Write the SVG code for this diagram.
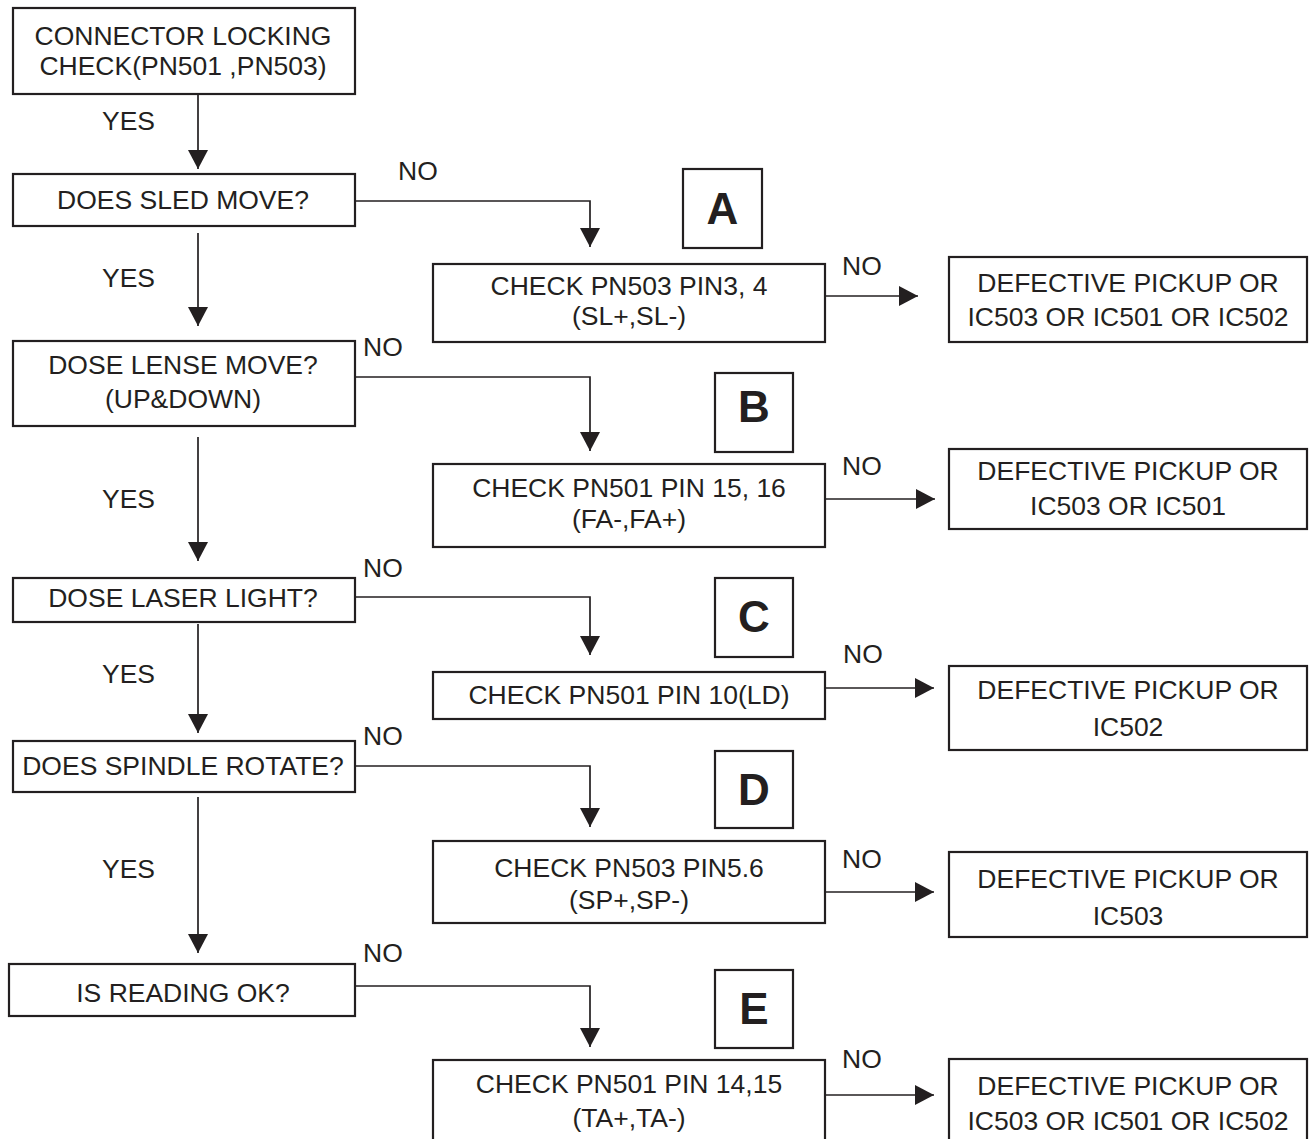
<svg xmlns="http://www.w3.org/2000/svg" width="1315" height="1139" viewBox="0 0 1315 1139">
<style>
  .box{fill:#fff;stroke:#231f20;stroke-width:2.2}
  .t{font-family:"Liberation Sans",Arial,Helvetica,sans-serif;font-size:26.5px;fill:#231f20;text-anchor:middle}
  .lbl{font-family:"Liberation Sans",Arial,Helvetica,sans-serif;font-size:26.5px;fill:#231f20}
  .big{font-family:"Liberation Sans",Arial,Helvetica,sans-serif;font-size:44px;font-weight:bold;fill:#231f20;text-anchor:middle}
  .c{fill:none;stroke:#231f20;stroke-width:1.7}
</style>
<defs>
  <marker id="ah" markerUnits="userSpaceOnUse" markerWidth="20" markerHeight="20" refX="19" refY="10" orient="auto">
    <path d="M0,0 L19,10 L0,20 Z" fill="#231f20"/>
  </marker>
</defs>
<rect width="1315" height="1139" fill="#fff"/>

<g id="connectors">
  <path class="c" d="M198,94 V169" marker-end="url(#ah)"/>
  <path class="c" d="M198,233 V326" marker-end="url(#ah)"/>
  <path class="c" d="M198,437 V561" marker-end="url(#ah)"/>
  <path class="c" d="M198,624 V733" marker-end="url(#ah)"/>
  <path class="c" d="M198,797 V953" marker-end="url(#ah)"/>

  <path class="c" d="M355,201 H590 V247" marker-end="url(#ah)"/>
  <path class="c" d="M355,377 H590 V451" marker-end="url(#ah)"/>
  <path class="c" d="M355,597 H590 V655" marker-end="url(#ah)"/>
  <path class="c" d="M355,766 H590 V827" marker-end="url(#ah)"/>
  <path class="c" d="M355,986 H590 V1047" marker-end="url(#ah)"/>

  <path class="c" d="M825,296 H918" marker-end="url(#ah)"/>
  <path class="c" d="M825,499 H935" marker-end="url(#ah)"/>
  <path class="c" d="M825,688 H934" marker-end="url(#ah)"/>
  <path class="c" d="M825,892 H934" marker-end="url(#ah)"/>
  <path class="c" d="M825,1095 H934" marker-end="url(#ah)"/>

  <text class="lbl" x="102" y="130">YES</text>
  <text class="lbl" x="102" y="287">YES</text>
  <text class="lbl" x="102" y="508">YES</text>
  <text class="lbl" x="102" y="683">YES</text>
  <text class="lbl" x="102" y="878">YES</text>

  <text class="lbl" x="398" y="180">NO</text>
  <text class="lbl" x="363" y="356">NO</text>
  <text class="lbl" x="363" y="577">NO</text>
  <text class="lbl" x="363" y="745">NO</text>
  <text class="lbl" x="363" y="962">NO</text>

  <text class="lbl" x="842" y="275">NO</text>
  <text class="lbl" x="842" y="475">NO</text>
  <text class="lbl" x="843" y="663">NO</text>
  <text class="lbl" x="842" y="868">NO</text>
  <text class="lbl" x="842" y="1068">NO</text>
</g>

<g id="n-connector">
  <rect class="box" x="13" y="8" width="342" height="86"/>
  <text class="t" x="183" y="45">CONNECTOR LOCKING</text>
  <text class="t" x="183" y="75">CHECK(PN501 ,PN503)</text>
</g>
<g id="n-sled">
  <rect class="box" x="13" y="174" width="342" height="52"/>
  <text class="t" x="183" y="209">DOES SLED MOVE?</text>
</g>
<g id="n-lense">
  <rect class="box" x="13" y="341" width="342" height="85"/>
  <text class="t" x="183" y="374">DOSE LENSE MOVE?</text>
  <text class="t" x="183" y="408">(UP&amp;DOWN)</text>
</g>
<g id="n-laser">
  <rect class="box" x="13" y="578" width="342" height="44"/>
  <text class="t" x="183" y="607">DOSE LASER LIGHT?</text>
</g>
<g id="n-spindle">
  <rect class="box" x="13" y="741" width="342" height="51"/>
  <text class="t" x="183" y="775">DOES SPINDLE ROTATE?</text>
</g>
<g id="n-reading">
  <rect class="box" x="9" y="964" width="346" height="52"/>
  <text class="t" x="183" y="1002">IS READING OK?</text>
</g>

<g id="n-labelA">
  <rect class="box" x="683" y="169" width="79" height="79"/>
  <text class="big" x="722.500" y="224">A</text>
</g>
<g id="n-labelB">
  <rect class="box" x="715" y="373" width="78" height="79"/>
  <text class="big" x="754" y="422">B</text>
</g>
<g id="n-labelC">
  <rect class="box" x="715" y="578" width="78" height="79"/>
  <text class="big" x="754" y="632">C</text>
</g>
<g id="n-labelD">
  <rect class="box" x="715" y="751" width="78" height="77"/>
  <text class="big" x="754" y="805">D</text>
</g>
<g id="n-labelE">
  <rect class="box" x="715" y="970" width="78" height="78"/>
  <text class="big" x="754" y="1024">E</text>
</g>

<g id="n-checkA">
  <rect class="box" x="433" y="264" width="392" height="78"/>
  <text class="t" x="629" y="295">CHECK PN503 PIN3, 4</text>
  <text class="t" x="629" y="325">(SL+,SL-)</text>
</g>
<g id="n-checkB">
  <rect class="box" x="433" y="464" width="392" height="83"/>
  <text class="t" x="629" y="497">CHECK PN501 PIN 15, 16</text>
  <text class="t" x="629" y="528">(FA-,FA+)</text>
</g>
<g id="n-checkC">
  <rect class="box" x="433" y="672" width="392" height="47"/>
  <text class="t" x="629" y="704">CHECK PN501 PIN 10(LD)</text>
</g>
<g id="n-checkD">
  <rect class="box" x="433" y="841" width="392" height="82"/>
  <text class="t" x="629" y="877">CHECK PN503 PIN5.6</text>
  <text class="t" x="629" y="909">(SP+,SP-)</text>
</g>
<g id="n-checkE">
  <rect class="box" x="433" y="1060" width="392" height="90"/>
  <text class="t" x="629" y="1093">CHECK PN501 PIN 14,15</text>
  <text class="t" x="629" y="1127">(TA+,TA-)</text>
</g>

<g id="n-defA">
  <rect class="box" x="949" y="257" width="358" height="85"/>
  <text class="t" x="1128" y="292">DEFECTIVE PICKUP OR</text>
  <text class="t" x="1128" y="326">IC503 OR IC501 OR IC502</text>
</g>
<g id="n-defB">
  <rect class="box" x="949" y="449" width="358" height="80"/>
  <text class="t" x="1128" y="480">DEFECTIVE PICKUP OR</text>
  <text class="t" x="1128" y="515">IC503 OR IC501</text>
</g>
<g id="n-defC">
  <rect class="box" x="949" y="666" width="358" height="84"/>
  <text class="t" x="1128" y="699">DEFECTIVE PICKUP OR</text>
  <text class="t" x="1128" y="736">IC502</text>
</g>
<g id="n-defD">
  <rect class="box" x="949" y="852" width="358" height="85"/>
  <text class="t" x="1128" y="888">DEFECTIVE PICKUP OR</text>
  <text class="t" x="1128" y="925">IC503</text>
</g>
<g id="n-defE">
  <rect class="box" x="949" y="1059" width="358" height="90"/>
  <text class="t" x="1128" y="1095">DEFECTIVE PICKUP OR</text>
  <text class="t" x="1128" y="1130">IC503 OR IC501 OR IC502</text>
</g>
</svg>
